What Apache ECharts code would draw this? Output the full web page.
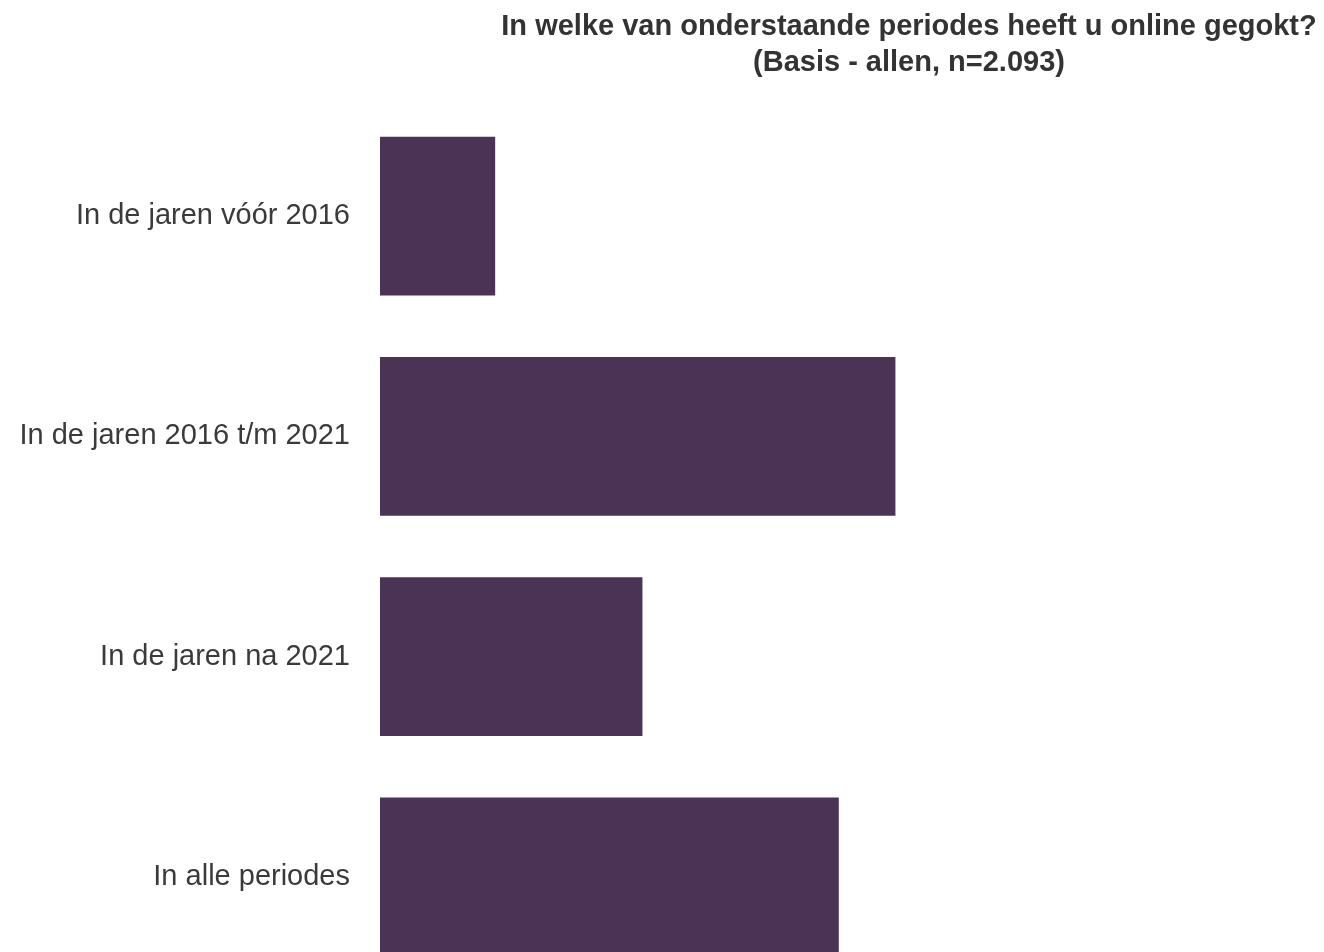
<!DOCTYPE html>
<html>
<head>
<meta charset="utf-8">
<script src="https://cdn.jsdelivr.net/npm/echarts@6/dist/echarts.min.js"></script>
<style>
html,body{margin:0;padding:0;background:#fff;}
#main{width:1324px;height:952px;}
</style>
</head>
<body>
<div id="main"></div>
<script>
// online gokken per periode
var categories = ['In de jaren vóór 2016', 'In de jaren 2016 t/m 2021', 'In de jaren na 2021', 'In alle periodes'];
var values = [12.2, 54.6, 27.8, 48.6];

var dom = document.getElementById("main");
var myChart = echarts.init(dom);
var option = {
    title: {
        text: 'In welke van onderstaande periodes heeft u online gegokt?\n(Basis - allen, n=2.093)',
        left: 904,
        top: 4,
        textAlign: 'center',
        textStyle: {
            fontFamily: 'Liberation Sans',
            fontSize: 29,
            fontWeight: 'bold',
            color: '#333',
            lineHeight: 36
        }
    },
    grid: {
        left: 380,
        right: 0,
        top: 106,
        height: 881,
        outerBoundsMode: 'none'
    },
    xAxis: {
        type: 'value',
        min: 0,
        max: 100,
        show: false
    },
    yAxis: {
        type: 'category',
        inverse: true,
        data: categories,
        axisLine: {show: false},
        axisTick: {show: false},
        axisLabel: {
            margin: 30,
            padding: [4, 0, 0, 0],
            fontFamily: 'Liberation Sans',
            fontSize: 29,
            color: '#3a3a3a'
        }
    },
    series: [{
        type: 'bar',
        data: values,
        barCategoryGap: '28%',
        itemStyle: {color: '#4b3355'},
        silent: true
    }],
    animation: false
};
myChart.setOption(option);
</script>
</body>
</html>
